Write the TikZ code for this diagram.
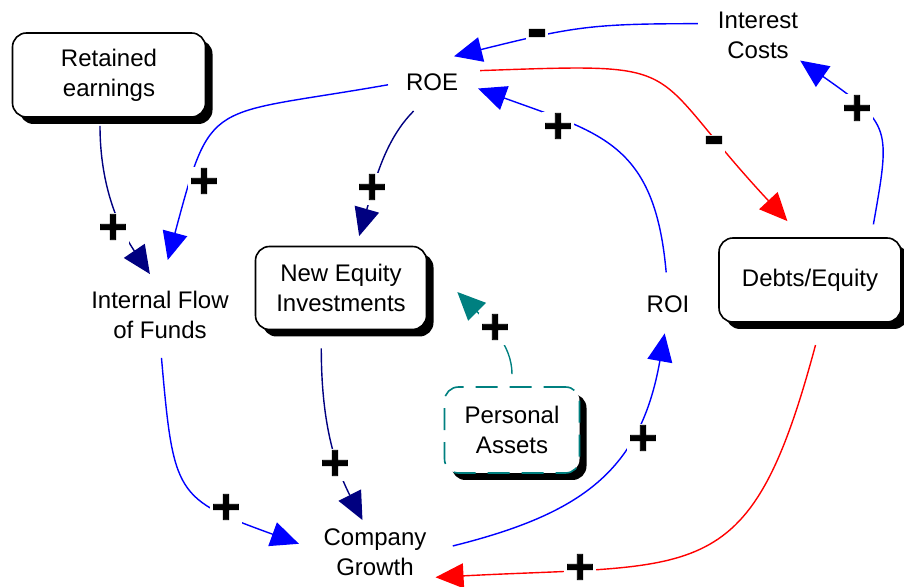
\documentclass[tikz,border=0pt]{standalone}
\usepackage{fontspec}
\setmainfont{Liberation Sans}
\newfontfamily\signfont{Liberation Sans}[FakeBold=1.5]
\usetikzlibrary{arrows.meta,shadows}
\definecolor{navyblue}{RGB}{0,0,128}
\definecolor{darkteal}{RGB}{0,128,128}
\tikzset{
  sysbox/.style={draw, line width=1.6pt, rounded corners=14pt, fill=white,
    align=center, inner sep=2pt,
    drop shadow={shadow xshift=7pt, shadow yshift=-7pt, fill=black, opacity=1}},
  lbl/.style={align=center, inner sep=2pt},
  sign/.style={font=\signfont\bfseries\fontsize{50}{50}\selectfont,
    fill=white, inner sep=1pt, text depth=0pt},
  minus/.style={sign, font=\signfont\bfseries\fontsize{60}{60}\selectfont},
  link/.style={line width=1.4pt, -{Triangle[length=28pt,width=25pt]}},
}
\begin{document}
\begin{tikzpicture}[x=1pt, y=1pt, font=\fontsize{24}{30}\selectfont]
    \useasboundingbox (0,0) rectangle (904,586);

    % Boxed variables
    \node[sysbox, minimum width=193pt, minimum height=84pt] (retained) at (109,511) {Retained\\earnings};
    \node[sysbox, minimum width=171pt, minimum height=83pt] (newequity) at (341,298) {New Equity\\Investments};
    \node[sysbox, minimum width=182pt, minimum height=84pt] (debts) at (810,306) {Debts/Equity};
    \node[sysbox, draw=darkteal, line width=1.6pt, dash pattern=on 22pt off 12pt,
          minimum width=135pt, minimum height=86pt] (personal) at (512,156) {Personal\\Assets};

    % Plain variables
    \node[lbl] (roe) at (432,504) {ROE};
    \node[lbl] (interest) at (758,551) {Interest\\Costs};
    \node[lbl] (roi) at (668,282) {ROI};
    \node[lbl] (flow) at (160,271) {Internal Flow\\of Funds};
    \node[lbl] (growth) at (375,34) {Company\\Growth};

    % Left loop
    \draw[link, navyblue, shorten <=8pt, shorten >=18pt] ([xshift=-9pt]retained.south) to[out=-90, in=124] (flow.north);
    \draw[link, blue, shorten <=16pt, shorten >=30pt] (roe.west) to[out=190, in=75, looseness=1.6] (flow.north);
    \draw[link, navyblue, shorten <=26pt, shorten >=10pt] (roe.south) to[out=225, in=74] (newequity.70);
    \draw[link, blue, shorten <=17pt, shorten >=24pt] (flow.south) to[out=-85, in=160, looseness=1.5] (growth.west);
    \draw[link, navyblue, shorten <=18pt, shorten >=7pt] (newequity.-115) to[out=-90, in=117] (growth.110);
    \draw[link, darkteal, shorten <=12pt] (personal.north) to[out=90, in=-45] ([shift={(30pt,-4pt)}]newequity.east);

    % Right loop
    \draw[link, blue, shorten <=25pt, shorten >=19pt] (growth.east) to[out=14, in=-100, looseness=1.2] (roi.south);
    \draw[link, blue, shorten <=21pt, shorten >=19pt] (roi.north) to[out=95, in=-20, looseness=1.3] (roe.east);
    \draw[link, red, shorten <=20pt, shorten >=22pt] (roe.north east) to[out=2, in=133, looseness=1.6] (debts.100);
    \draw[link, blue, shorten <=13pt] (debts.35) to[out=80, in=-35, looseness=1.5] (interest.south east);
    \draw[link, blue, shorten <=18pt] (interest.165) to[out=180, in=14, looseness=1.2] ([shift={(22pt,15pt)}]roe.north);
    \draw[link, red, shorten <=23pt, shorten >=7pt] (debts.-75) to[out=255, in=3, looseness=1.5] (growth.south east);

    % Polarity signs
    \node[sign] (sA) at (113,357) {+};
    \node[sign] (sB) at (204,403) {+};
    \node[sign] (sC) at (372,397) {+};
    \node[sign] (sD) at (226,77) {+};
    \node[sign] (sE) at (335,121) {+};
    \node[sign] (sF) at (495,257) {+};
    \node[sign] (sG) at (643,146) {+};
    \node[sign] (sH) at (558,458) {+};
    \node[sign] (sI) at (857,476) {+};
    \node[sign] (sJ) at (580,17) {+};
    \node[minus] (sK) at (537,547) {-};
    \node[minus] (sL) at (714,440) {-};

\end{tikzpicture}
\end{document}
